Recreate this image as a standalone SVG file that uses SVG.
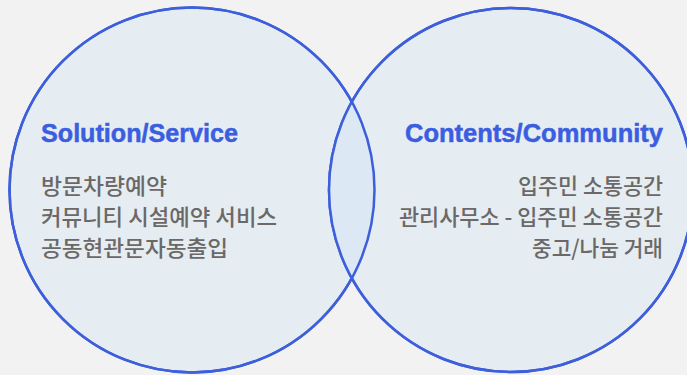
<svg xmlns="http://www.w3.org/2000/svg" width="687" height="375" viewBox="0 0 687 375">
<style>
.circ{fill:#e6edf2;stroke:#3d5fdb;stroke-width:2.5}
.title{font-family:"Liberation Sans",Arial,sans-serif;font-weight:bold;font-size:25px;fill:#3b5ee0;stroke:#3b5ee0;stroke-width:0.5}
.item{font-family:"Noto Sans CJK KR","Noto Sans",sans-serif;font-size:22px;font-weight:500;fill:#6b6868}
</style>
<defs>
<clipPath id="clipL"><circle cx="192" cy="190" r="182.5"/></clipPath>
</defs>
<rect width="687" height="375" fill="#f2f2f2"/>
<g id="solution">
<circle class="circ" cx="192" cy="190" r="182.5"/>
</g>
<g id="contents">
<circle class="circ" cx="511" cy="190" r="182"/>
</g>
<g id="overlap">
<circle cx="511" cy="190" r="182" fill="#dce8f3" clip-path="url(#clipL)"/>
<circle cx="192" cy="190" r="182.5" fill="none" stroke="#3d5fdb" stroke-width="2.5"/>
<circle cx="511" cy="190" r="182" fill="none" stroke="#3d5fdb" stroke-width="2.5"/>
</g>
<g id="solution-text">
<text class="title" x="41" y="142" textLength="197" lengthAdjust="spacingAndGlyphs">Solution/Service</text>
<text class="item" x="41" y="194" textLength="126" lengthAdjust="spacingAndGlyphs">방문차량예약</text>
<text class="item" x="41" y="225" textLength="236" lengthAdjust="spacingAndGlyphs">커뮤니티 시설예약 서비스</text>
<text class="item" x="41" y="256" textLength="187" lengthAdjust="spacingAndGlyphs">공동현관문자동출입</text>
</g>
<g id="contents-text">
<text class="title" x="405" y="142" textLength="258" lengthAdjust="spacingAndGlyphs">Contents/Community</text>
<text class="item" x="518" y="194" textLength="145" lengthAdjust="spacingAndGlyphs">입주민 소통공간</text>
<text class="item" x="399" y="225" textLength="264" lengthAdjust="spacingAndGlyphs">관리사무소 - 입주민 소통공간</text>
<text class="item" x="532" y="256" textLength="131" lengthAdjust="spacingAndGlyphs">중고/나눔 거래</text>
</g>
</svg>
